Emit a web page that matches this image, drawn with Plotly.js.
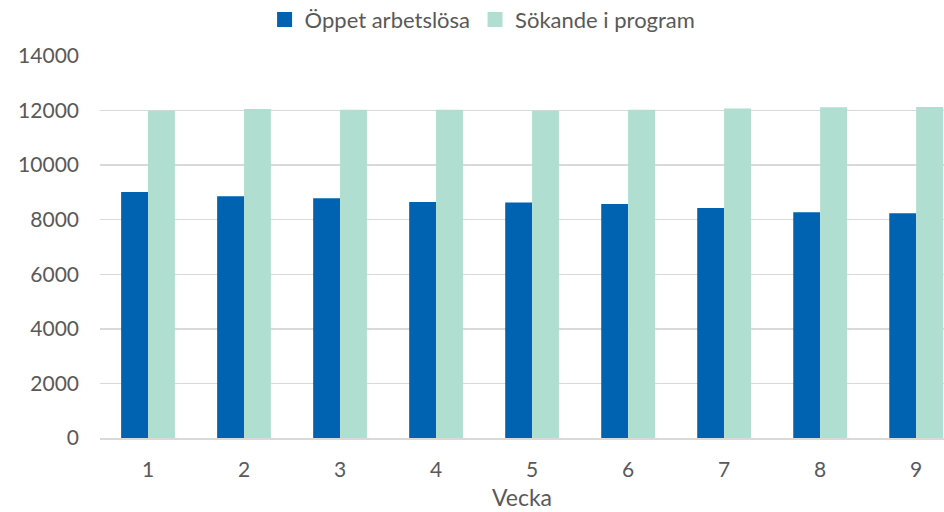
<!DOCTYPE html>
<html>
<head>
<meta charset="utf-8">
<script src="https://cdn.plot.ly/plotly-3.0.1.min.js"></script>
<style>html,body{margin:0;padding:0;background:#fff;}#chart{width:944px;height:512px;}</style>
</head>
<body>
<div id="chart"></div>
<script>
const weeks = ["1","2","3","4","5","6","7","8","9"];
const oppetArbetslosa = [9020, 8860, 8790, 8650, 8630, 8580, 8430, 8270, 8240];
const sokandeIProgram = [11990, 12060, 12030, 12030, 11990, 12030, 12080, 12120, 12130];
const seriesNames = ["Öppet arbetslösa", "Sökande i program"];
const seriesColors = ["#0063b1", "#b0dfd2"];
const yTicks = [0, 2000, 4000, 6000, 8000, 10000, 12000, 14000];

const font = "Lato, 'Open Sans', sans-serif";
const data = [
  {type: "bar", name: seriesNames[0], x: weeks, y: oppetArbetslosa, showlegend: false,
   marker: {color: seriesColors[0], line: {width: 0}}},
  {type: "bar", name: seriesNames[1], x: weeks, y: sokandeIProgram, showlegend: false,
   marker: {color: seriesColors[1], line: {width: 0}}},
  {type: "scatter", mode: "markers", name: seriesNames[0], x: [null], y: [null],
   marker: {symbol: "square", size: 15, color: seriesColors[0]}},
  {type: "scatter", mode: "markers", name: seriesNames[1], x: [null], y: [null],
   marker: {symbol: "square", size: 15, color: seriesColors[1]}}
];
const layout = {
  width: 944, height: 512,
  margin: {l: 100, r: 0, t: 56, b: 74, autoexpand: false},
  paper_bgcolor: "#fff", plot_bgcolor: "#fff",
  font: {family: font, color: "#595959", size: 21},
  barmode: "group", bargap: 0.44, bargroupgap: 0,
  showlegend: true,
  legend: {orientation: "h", x: 0.195, xanchor: "left", y: 1.095, yanchor: "middle",
           font: {size: 22, color: "#595959"}, traceorder: "normal", itemwidth: 30},
  xaxis: {type: "category", range: [-0.5, 8.29], showgrid: false, showline: true,
          linecolor: "#d9d9d9", linewidth: 2, ticks: "", ticklabelstandoff: 12,
          tickfont: {size: 21, color: "#595959"},
          title: {text: "Vecka", font: {size: 23, color: "#595959"}, standoff: 10}},
  yaxis: {range: [0, 14000], tickvals: yTicks, ticktext: yTicks.map(String),
          showgrid: true, gridcolor: "#d9d9d9", gridwidth: 1.5, zeroline: false,
          showline: false, ticks: "", ticklabelstandoff: 20,
          tickfont: {size: 21, color: "#595959"}}
};
Plotly.newPlot("chart", data, layout, {displayModeBar: false, staticPlot: true});
</script>
</body>
</html>
